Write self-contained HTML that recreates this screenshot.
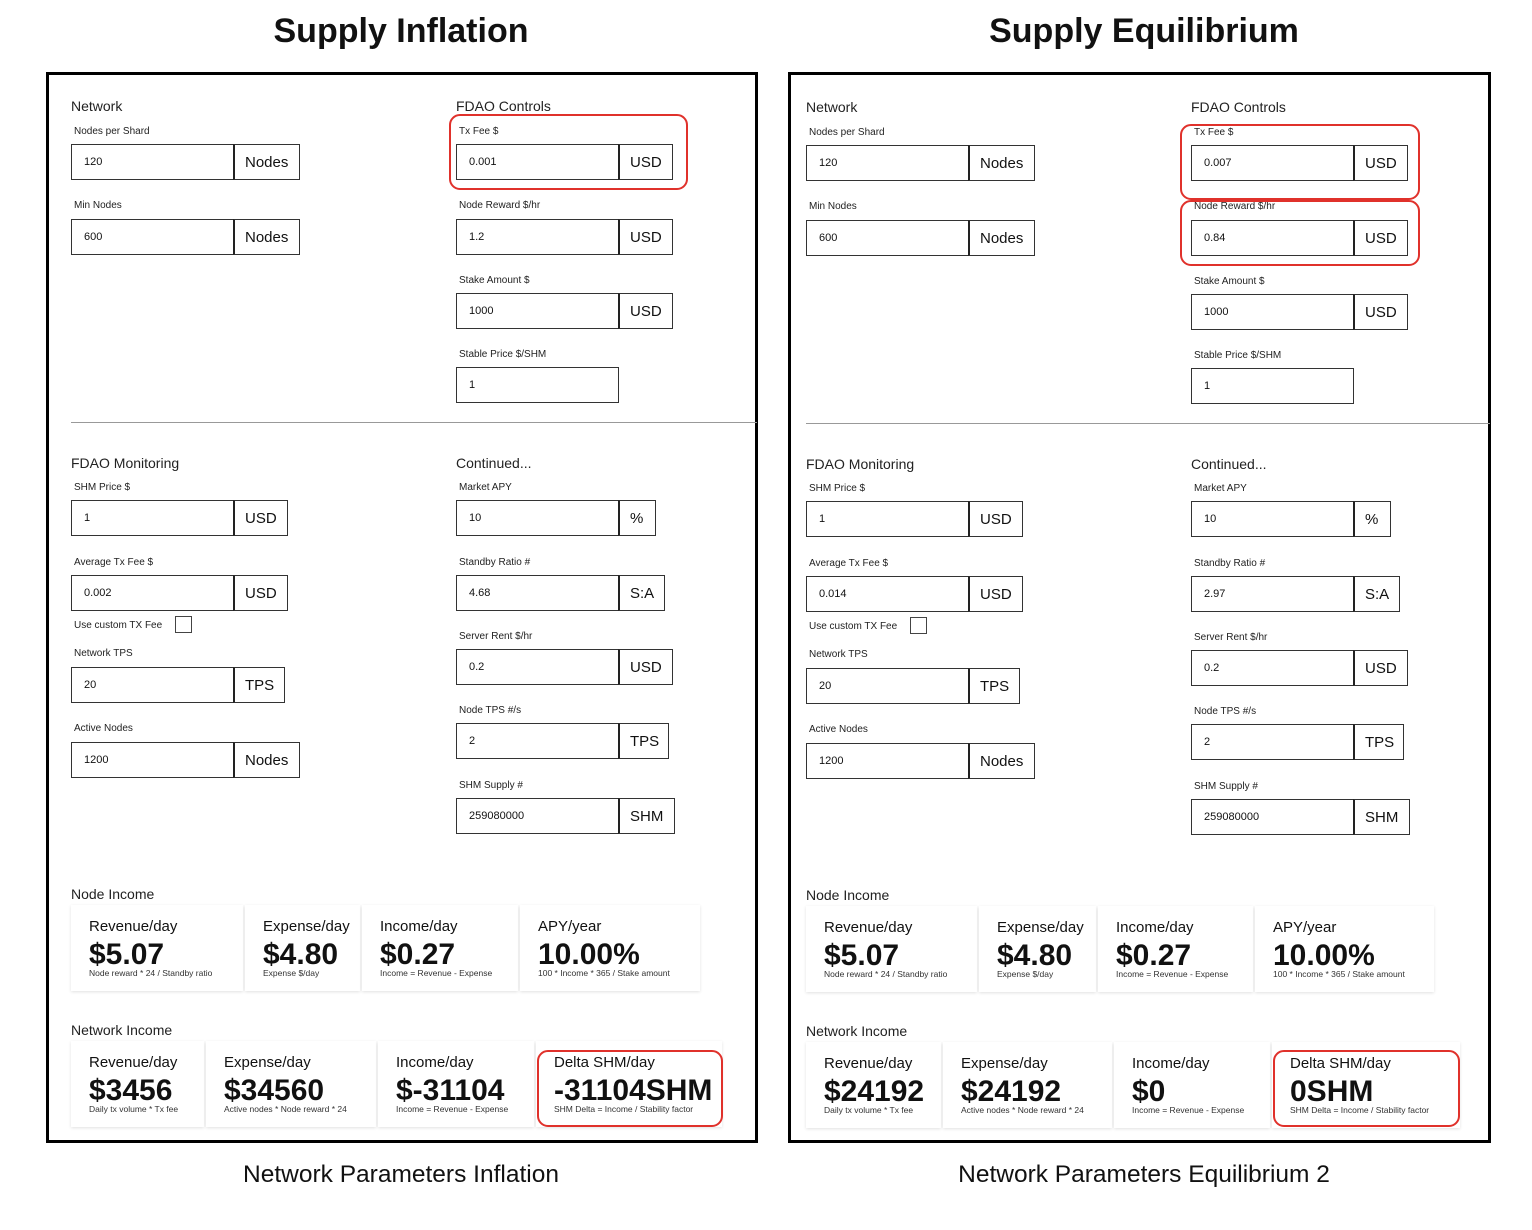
<!DOCTYPE html>
<html><head><meta charset="utf-8">
<style>
body{margin:0;width:1532px;height:1230px;background:#fff;position:relative;overflow:hidden;font-family:"Liberation Sans",sans-serif;color:#111}
.a{position:absolute;white-space:nowrap}
.frame{position:absolute;border:3px solid #000;box-sizing:border-box}
.lbl{font-size:10px;color:#222}
.sec{font-size:14px;color:#222}
.box{position:absolute;border:1px solid #333;box-sizing:border-box;background:#fff;font-size:11px;display:flex;align-items:center;padding-left:12px}
.unit{position:absolute;border:1px solid #333;border-left:2px solid #222;box-sizing:border-box;font-size:15px;display:flex;align-items:center;padding-left:10px}
.card{position:absolute;background:#fff;box-shadow:0 1px 3px rgba(0,0,0,0.12);box-sizing:border-box}
.card .t{position:absolute;left:18px;top:13px;font-size:15px}
.card .v{position:absolute;left:18px;top:33px;font-size:30px;font-weight:bold}
.card .s{position:absolute;left:18px;top:63px;font-size:8.5px;color:#333}
.red{position:absolute;border:2px solid #e0312b;border-radius:11px;box-sizing:border-box}
.title{font-size:34px;font-weight:bold;transform:translateX(-50%)}
.cap{font-size:24.5px;transform:translateX(-50%)}
</style></head><body>
<div class="a title" style="left:401px;top:12px">Supply Inflation</div>
<div class="a title" style="left:1144px;top:12px">Supply Equilibrium</div>
<div class="frame" style="left:46px;top:72px;width:712px;height:1071px"></div>
<div class="frame" style="left:788px;top:72px;width:703px;height:1071px"></div>
<div class="a cap" style="left:401px;top:1161px">Network Parameters Inflation</div>
<div class="a cap" style="left:1144px;top:1161px">Network Parameters Equilibrium 2</div>
<div id="root"></div>
<script>
const leftVals = ["120","600","0.001","1.2","1000","1","1","0.002","20","1200","10","4.68","0.2","2","259080000"];
const rightVals = ["120","600","0.007","0.84","1000","1","1","0.014","20","1200","10","2.97","0.2","2","259080000"];
const fieldLabels = ["Nodes per Shard","Min Nodes","Tx Fee $","Node Reward $/hr","Stake Amount $","Stable Price $/SHM","SHM Price $","Average Tx Fee $","Network TPS","Active Nodes","Market APY","Standby Ratio #","Server Rent $/hr","Node TPS #/s","SHM Supply #"];
const fieldUnits = ["Nodes","Nodes","USD","USD","USD","","USD","USD","TPS","Nodes","%","S:A","USD","TPS","SHM"];
const nodeTitles = ["Revenue/day","Expense/day","Income/day","APY/year"];
const nodeSubs = ["Node reward * 24 / Standby ratio","Expense $/day","Income = Revenue - Expense","100 * Income * 365 / Stake amount"];
const netTitles = ["Revenue/day","Expense/day","Income/day","Delta SHM/day"];
const netSubs = ["Daily tx volume * Tx fee","Active nodes * Node reward * 24","Income = Revenue - Expense","SHM Delta = Income / Stability factor"];
const leftNode = ["$5.07","$4.80","$0.27","10.00%"];
const rightNode = ["$5.07","$4.80","$0.27","10.00%"];
const leftNet = ["$3456","$34560","$-31104","-31104SHM"];
const rightNet = ["$24192","$24192","$0","0SHM"];

const L = [[71,130,144,300],[71,204,219,300],[456,130,144,673],[456,204,219,673],[456,279,293,673],[456,353,367,0],
[71,486,500,288],[71,561,575,288],[71,652,667,285],[71,727,742,300],
[456,486,500,656],[456,561,575,665],[456,635,649,673],[456,709,723,669],[456,784,798,675]];
const root=document.getElementById('root');
function mk(cls,x,y,w,h,txt){const d=document.createElement('div');d.className=cls;d.style.left=x+'px';d.style.top=y+'px';if(w)d.style.width=w+'px';if(h)d.style.height=h+'px';if(txt!==undefined)d.textContent=txt;root.appendChild(d);return d;}
function panel(side,dx,dy,vals,nodeV,netV,nodeX,netX,divEnd){
  [["Network",71,98],["FDAO Controls",456,98],["FDAO Monitoring",71,455],["Continued...",456,455],["Node Income",71,886],["Network Income",71,1022]].forEach(s=>{
    const e=mk('a sec',s[1]+dx,s[2]+dy,0,0,s[0]);
    
    
  });
  const dv=mk('a',71+dx,422+dy,divEnd-71-dx,1);dv.style.background='#999';
  
  
  L.forEach((f,i)=>{
    const lb=mk('a lbl',f[0]+3+dx,f[1]-4+dy,0,0,fieldLabels[i]);
    
    
    const b=mk('box',f[0]+dx,f[2]+dy,163,36,vals[i]);
    
    
    if(f[3]){const u=mk('unit',f[0]+162+dx,f[2]+dy,f[3]-f[0]-162,36,fieldUnits[i]);
      
      }
  });
  const cl=mk('a lbl',74+dx,620+dy,0,0,'Use custom TX Fee');
  
  
  const cb=mk('a',175+dx,616+dy,17,17);cb.style.border='1px solid #444';cb.style.boxSizing='border-box';
  
  
  function cards(xs,y,titles,vs,subs,kind){
    for(let i=0;i<4;i++){
      const c=mk('card',xs[i]+dx,y+dy,xs[i+1]-xs[i]-2,86);
      
      
      c.innerHTML='<div class="a t">'+titles[i]+'</div><div class="a v">'+vs[i]+'</div><div class="a s">'+subs[i]+'</div>';
    }
  }
  cards(nodeX,905,nodeTitles,nodeV,nodeSubs,'node-income');
  cards(netX,1041,netTitles,netV,netSubs,'network-income');
}
panel('left',0,0,leftVals,leftNode,leftNet,[71,245,362,520,702],[71,206,378,536,724],757);
panel('right',735,1,rightVals,rightNode,rightNet,[71,244,363,520,701],[71,208,379,537,727],1490);
function red(x,y,w,h,n){const r=mk('red',x,y,w,h);
  
  }
red(449,114,239,76,'left-txfee-highlight');
red(537,1050,186,77,'left-delta-highlight');
red(1180,124,240,76,'right-txfee-highlight');
red(1180,200,240,66,'right-reward-highlight');
red(1273,1050,187,77,'right-delta-highlight');
</script>
</body></html>
